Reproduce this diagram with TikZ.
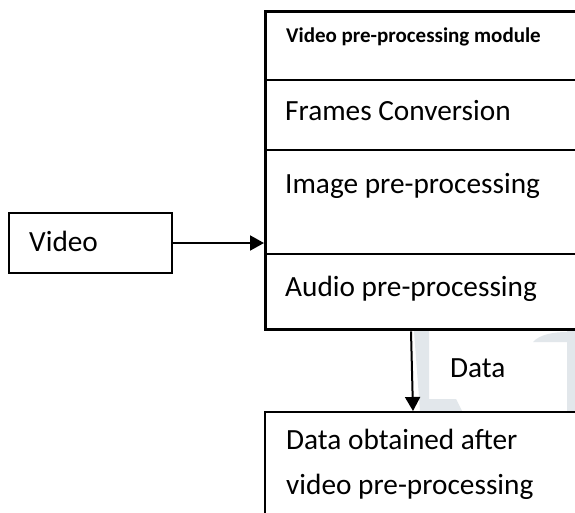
\documentclass[tikz,border=0pt]{standalone}
\usepackage{fontspec}
\setmainfont{Carlito}
\usetikzlibrary{arrows.meta,calc}

\definecolor{wmark}{HTML}{E2E7EB}
\tikzset{
  box/.style={draw=black, line width=2pt, rectangle, inner sep=0pt, anchor=north west},
  outerbox/.style={draw=black, line width=3.4pt, rectangle, inner sep=0pt, anchor=north west},
  divider/.style={draw=black, line width=1.5pt},
  txt/.style={anchor=base west, inner sep=0pt, font=\fontsize{29.3pt}{34pt}\selectfont},
  titletxt/.style={anchor=base west, inner sep=0pt, font=\fontsize{21pt}{24pt}\selectfont\bfseries},
  flow/.style={draw=black, line width=2pt, -{Triangle[length=14pt,width=15pt]}},
  wmshape/.style={fill=wmark, draw=none}
}

\begin{document}
\begin{tikzpicture}[x=1pt, y=-1pt]
  \useasboundingbox (0,0) rectangle (575,512);
  \clip (0,0) rectangle (575,512);
  \fill[white] (0,0) rectangle (575,512);

  % faint background lettering around the data label
  \fill[wmshape] (414,331) -- (429,331) -- (429,399) -- (456,399) -- (462,411) -- (420,411) -- cycle;
  \fill[wmshape] (533,342) .. controls (540,334) and (555,332) .. (567,332) -- (567,342) -- cycle;
  \fill[wmshape] (567,331) rectangle (575,411);

  % input
  \node[box, minimum width=163pt, minimum height=60pt] (video) at (8,212) {};
  \node[txt] (videotxt) at (29,251) {Video};

  % module with its four sections
  \node[outerbox, minimum width=340pt, minimum height=318pt] (module) at (264,10) {};
  \coordinate (d1) at (264,80);
  \coordinate (d2) at (264,150);
  \coordinate (d3) at (264,254);
  \draw[divider] (d1) -- ++(320,0);
  \draw[divider] (d2) -- ++(320,0);
  \draw[divider] (d3) -- ++(320,0);
  \node[titletxt] (title) at (286,42) {Video pre-processing module};
  \node[txt] (frames) at (285,120) {Frames Conversion};
  \node[txt] (image) at (285,193) {Image pre-processing};
  \node[txt] (audio) at (285,296) {Audio pre-processing};

  % output
  \node[box, minimum width=340pt, minimum height=140pt] (result) at (264,411) {};
  \node[txt] (res1) at (286,449) {Data obtained after};
  \node[txt] (res2) at (286,494) {video pre-processing};

  % connectors
  \draw[flow] (video.east) -- (video.east -| module.west);
  \draw[flow] ([xshift=147pt]module.south west) -- ([xshift=149pt]result.north west);
  \node[txt] (datalbl) at (450,377) {Data};
\end{tikzpicture}
\end{document}
